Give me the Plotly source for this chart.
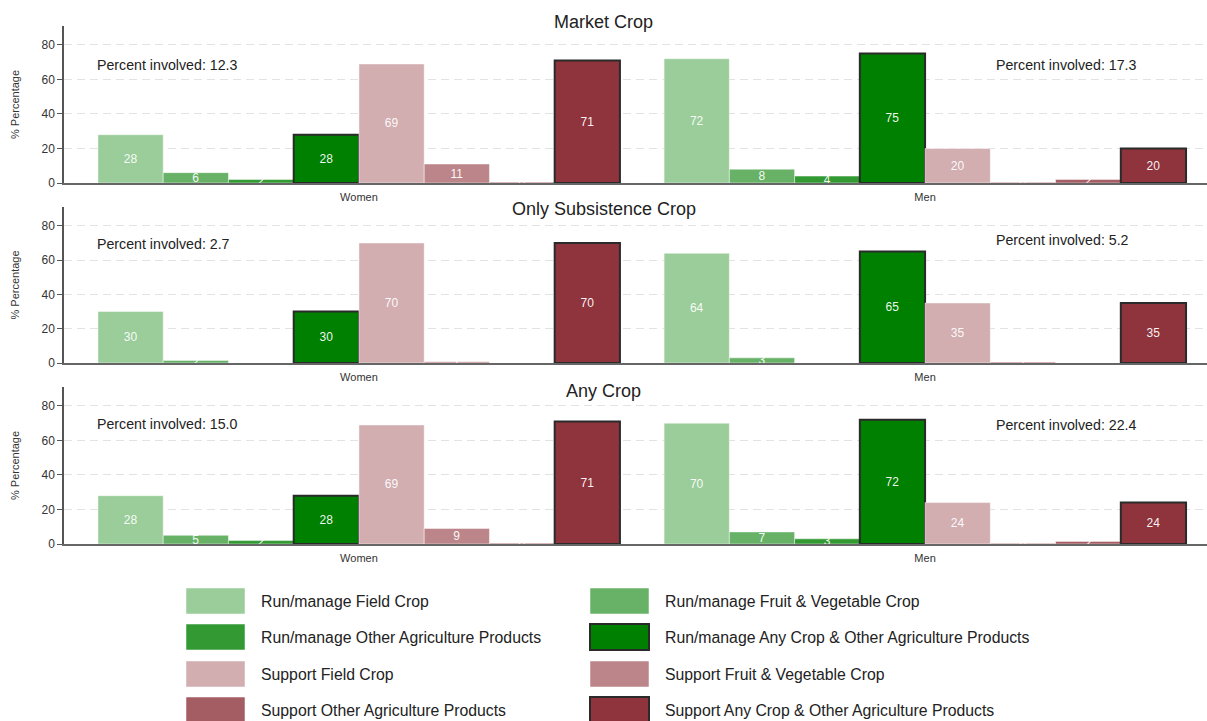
import plotly.graph_objects as go
from plotly.subplots import make_subplots

groups = ["Women", "Men"]
panel_titles = ["Market Crop", "Only Subsistence Crop", "Any Crop"]
series_names = [
    "Run/manage Field Crop",
    "Run/manage Fruit & Vegetable Crop",
    "Run/manage Other Agriculture Products",
    "Run/manage Any Crop & Other Agriculture Products",
    "Support Field Crop",
    "Support Fruit & Vegetable Crop",
    "Support Other Agriculture Products",
    "Support Any Crop & Other Agriculture Products",
]
series_colors = ["#9acd9a", "#67b267", "#339933", "#008000",
                 "#d2aeb1", "#bc858a", "#a55d64", "#8f343d"]

# values per panel, in series order
market_women = [28, 6, 2, 28, 69, 11, 0.5, 71]
market_men = [72, 8, 4, 75, 20, 0.5, 2, 20]
subsist_women = [30, 1.5, 0, 30, 70, 0.7, 0, 70]
subsist_men = [64, 3, 0, 65, 35, 0.6, 0, 35]
any_women = [28, 5, 2, 28, 69, 9, 0.5, 71]
any_men = [70, 7, 3, 72, 24, 0.5, 1.5, 24]

involved_women = [12.3, 2.7, 15.0]
involved_men = [17.3, 5.2, 22.4]

y_ticks = [0, 20, 40, 60, 80]

panels = [(market_women, market_men), (subsist_women, subsist_men), (any_women, any_men)]

W, H = 1207, 721
ML = 64


def px2x(px):
    return (px - ML) / (W - ML)


def py2y(py):
    return 1 - py / H


fig = make_subplots(rows=3, cols=1)

label_font = "Liberation Sans Narrow, Arial Narrow, Arial, sans-serif"

for p, (wv, mv) in enumerate(panels):
    for s, name in enumerate(series_names):
        vals = [wv[s], mv[s]]
        txt = ["" if v == 0 else str(int(round(v))) for v in vals]
        is_any = "Any" in name
        fig.add_trace(go.Bar(
            x=groups, y=vals, name=name, text=txt,
            textposition="inside", insidetextanchor="middle", textangle=0,
            constraintext="none",
            textfont=dict(color="rgba(255,255,255,0.95)", size=12, family=label_font),
            marker=dict(color=series_colors[s],
                        line=dict(color="#2a2a2a" if is_any else "rgba(255,255,255,0.45)",
                                  width=2 if is_any else 1)),
            showlegend=False, hoverinfo="skip",
        ), row=p + 1, col=1)

domains = [(26, 183), (207, 363), (387, 544)]
for i, (top, bot) in enumerate(domains):
    sfx = "" if i == 0 else str(i + 1)
    fig.layout["yaxis" + sfx].update(
        domain=[py2y(bot), py2y(top)], range=[0, 91], automargin=False,
        tickvals=y_ticks, ticks="outside", ticklen=5, tickcolor="#555",
        tickfont=dict(size=12, color="#333", family="Arial"),
        showline=True, linecolor="#555", linewidth=1.5,
        showgrid=True, gridcolor="#e3e3e3", griddash="8px,5px", gridwidth=1,
        zeroline=False,
        title=dict(text="% Percentage", font=dict(size=11, color="#333", family="Arial"), standoff=20),
    )
    fig.layout["xaxis" + sfx].update(
        domain=[0, 1], range=[-0.521, 1.498], type="category", automargin=False,
        showline=True, linecolor="#666", linewidth=2, ticks="", ticklabelstandoff=3,
        tickfont=dict(size=11, color="#333", family=label_font),
        showgrid=False, zeroline=False,
    )

annotations = []
title_y = [22, 209, 391]
for i, t in enumerate(panel_titles):
    annotations.append(dict(text=t, xref="paper", yref="paper", x=px2x(603.5), y=py2y(title_y[i]),
                            xanchor="center", yanchor="middle", showarrow=False,
                            font=dict(size=18, color="#222", family="Arial")))

left_y = [68.5, 69.5, 69.5]
right_y = [68.5, 71.5, 69.0]
for i in range(3):
    sfx = "" if i == 0 else str(i + 1)
    annotations.append(dict(text=f"Percent involved: {involved_women[i]:.1f}", xref="x" + sfx, yref="y" + sfx,
                            x=-0.467, y=left_y[i], xanchor="left", yanchor="middle", showarrow=False,
                            font=dict(size=14.2, color="#222", family="Arial")))
    annotations.append(dict(text=f"Percent involved: {involved_men[i]:.1f}", xref="x" + sfx, yref="y" + sfx,
                            x=1.122, y=right_y[i], xanchor="left", yanchor="middle", showarrow=False,
                            font=dict(size=14.2, color="#222", family="Arial")))

# manual legend (2 columns, row-major)
shapes = []
row_y = [601, 637, 674, 710]
col_x = [186, 590]
for k, name in enumerate(series_names):
    r, c = k // 2, k % 2
    x0 = col_x[c]
    yc = row_y[r]
    is_any = "Any" in name
    shapes.append(dict(type="rect", xref="paper", yref="paper",
                       x0=px2x(x0), x1=px2x(x0 + 59), y0=py2y(yc + 13), y1=py2y(yc - 13),
                       fillcolor=series_colors[k],
                       line=dict(color="#2a2a2a" if is_any else "rgba(255,255,255,0.5)",
                                 width=2 if is_any else 1)))
    annotations.append(dict(text=name, xref="paper", yref="paper", x=px2x(x0 + 73), y=py2y(yc),
                            xanchor="left", yanchor="middle", showarrow=False,
                            font=dict(size=15.8, color="#222", family="Arial")))

fig.update_layout(
    width=W, height=H, barmode="group", bargap=0.078, bargroupgap=0,
    margin=dict(l=ML, r=0, t=0, b=0),
    plot_bgcolor="white", paper_bgcolor="white",
    annotations=annotations, shapes=shapes, showlegend=False,
)

fig.write_html("out.html", config={"displayModeBar": False},
               post_script="document.body.style.margin='0';document.body.style.overflow='hidden';")
